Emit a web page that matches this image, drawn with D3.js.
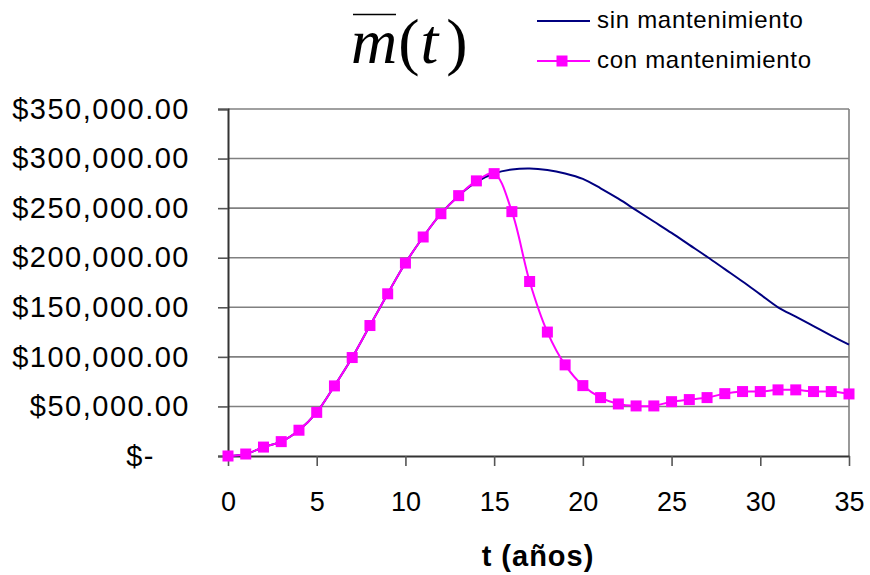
<!DOCTYPE html>
<html>
<head>
<meta charset="utf-8">
<script src="https://cdn.jsdelivr.net/npm/d3@7"></script>
<style>
  body { margin: 0; background: #fff; }
  svg { display: block; }
</style>
</head>
<body>
<svg id="chart" width="870" height="575"></svg>
<script>
// ---- data ----
const years = d3.range(0, 36);
const sinMantenimiento = [0, 2000, 9000, 14500, 26000, 44000, 70700, 99300, 131600, 163600,
  194600, 220900, 244400, 262600, 276500, 285000, 289000, 290000, 288500, 285000,
  279500, 270000, 259500, 248000, 236500, 225000, 213000, 201000, 188500, 176000,
  163000, 150000, 140500, 131000, 121500, 112300];
const conMantenimiento = [0, 2000, 9000, 14500, 26000, 44000, 70700, 99300, 131600, 163600,
  194600, 220900, 244400, 262600, 277500, 284800, 246500, 176000, 125000, 91900,
  71000, 58900, 52500, 50500, 50500, 54800, 56900, 58900, 62900, 65000,
  65000, 66700, 66700, 65000, 65000, 62600];
const yTicks = [0, 50000, 100000, 150000, 200000, 250000, 300000, 350000];
const yTickLabels = ["$-", "$50,000.00", "$100,000.00", "$150,000.00", "$200,000.00", "$250,000.00", "$300,000.00", "$350,000.00"];
const xTicks = [0, 5, 10, 15, 20, 25, 30, 35];
const seriesNames = ["sin mantenimiento", "con mantenimiento"];
const xTitle = "t (años)";

// ---- layout ----
const svg = d3.select("#chart");
const pLeft = 228, pRight = 849, pTop = 109, pBottom = 456;
const x = d3.scaleLinear().domain([0, 35]).range([pLeft, pRight]);
const y = d3.scaleLinear().domain([0, 350000]).range([pBottom, pTop]);
const sans = "Arial, 'Liberation Sans', sans-serif";

// gridlines
svg.append("g").selectAll("line").data(yTicks.filter(d => d > 0)).join("line")
  .attr("x1", pLeft).attr("x2", pRight)
  .attr("y1", d => y(d)).attr("y2", d => y(d))
  .attr("stroke", "#808080").attr("stroke-width", 1.6);

// right border
svg.append("line").attr("x1", pRight).attr("x2", pRight).attr("y1", pTop).attr("y2", pBottom)
  .attr("stroke", "#808080").attr("stroke-width", 1.6);

// y axis
const yAxis = svg.append("g").attr("transform", `translate(${pLeft},0)`)
  .call(d3.axisLeft(y).tickValues(yTicks).tickSize(10).tickPadding(28)
    .tickFormat((d, i) => yTickLabels[i]));
yAxis.select(".domain").attr("stroke", "#333").attr("stroke-width", 2);
yAxis.selectAll(".tick line").attr("stroke", "#555").attr("stroke-width", 1.6);
yAxis.selectAll("text").attr("font-family", sans)
  .attr("font-size", 29).attr("letter-spacing", 1.5).attr("fill", "#000");
yAxis.selectAll(".tick").filter(d => d === 0).select("text").attr("dx", -35);

// x axis
const xAxis = svg.append("g").attr("transform", `translate(0,${pBottom})`)
  .call(d3.axisBottom(x).tickValues(xTicks).tickSize(10).tickPadding(26).tickSizeOuter(0));
xAxis.select(".domain").attr("stroke", "#333").attr("stroke-width", 2);
xAxis.selectAll(".tick line").attr("stroke", "#555").attr("stroke-width", 1.6);
xAxis.selectAll("text").attr("font-family", sans)
  .attr("font-size", 27).attr("fill", "#000");

// x title
svg.append("text").attr("x", 538).attr("y", 566).attr("text-anchor", "middle")
  .attr("font-family", sans).attr("font-weight", "bold")
  .attr("font-size", 29).attr("letter-spacing", 1).text(xTitle);

// lines
const line = d3.line().curve(d3.curveCatmullRom.alpha(0.5));
svg.append("path")
  .attr("d", line(years.map((t, i) => [x(t), y(sinMantenimiento[i])])))
  .attr("fill", "none").attr("stroke", "#000080").attr("stroke-width", 2);
svg.append("path")
  .attr("d", line(years.map((t, i) => [x(t), y(conMantenimiento[i])])))
  .attr("fill", "none").attr("stroke", "#FF00FF").attr("stroke-width", 2);
const ms = 11;
svg.append("g").selectAll("rect").data(years).join("rect")
  .attr("x", (t) => x(t) - ms / 2).attr("y", (t, i) => y(conMantenimiento[i]) - ms / 2)
  .attr("width", ms).attr("height", ms).attr("fill", "#FF00FF");

// legend
const lg = svg.append("g");
lg.append("line").attr("x1", 537).attr("x2", 590).attr("y1", 21).attr("y2", 21)
  .attr("stroke", "#000080").attr("stroke-width", 2);
lg.append("line").attr("x1", 537).attr("x2", 590).attr("y1", 61).attr("y2", 61)
  .attr("stroke", "#FF00FF").attr("stroke-width", 2);
lg.append("rect").attr("x", 562 - ms / 2).attr("y", 61 - ms / 2).attr("width", ms).attr("height", ms)
  .attr("fill", "#FF00FF");
lg.selectAll("text").data(seriesNames).join("text")
  .attr("x", 597).attr("y", (d, i) => 28 + i * 40)
  .attr("font-family", sans).attr("font-size", 24).attr("letter-spacing", 0.7)
  .attr("fill", "#000").text(d => d);

// title m(t) with overline, as one text run
const tt = svg.append("text").attr("x", 351).attr("y", 63)
  .attr("font-family", "'Times New Roman', 'Liberation Serif', serif").attr("font-size", 64).attr("fill", "#000");
tt.append("tspan").attr("font-style", "italic").text("m");
tt.append("tspan").attr("dx", 1).text("(");
tt.append("tspan").attr("dx", 1).attr("font-style", "italic").text("t");
tt.append("tspan").attr("dx", 8).text(")");
svg.append("line").attr("x1", 353).attr("x2", 396).attr("y1", 14.5).attr("y2", 14.5)
  .attr("stroke", "#000").attr("stroke-width", 1.3);
</script>
</body>
</html>
